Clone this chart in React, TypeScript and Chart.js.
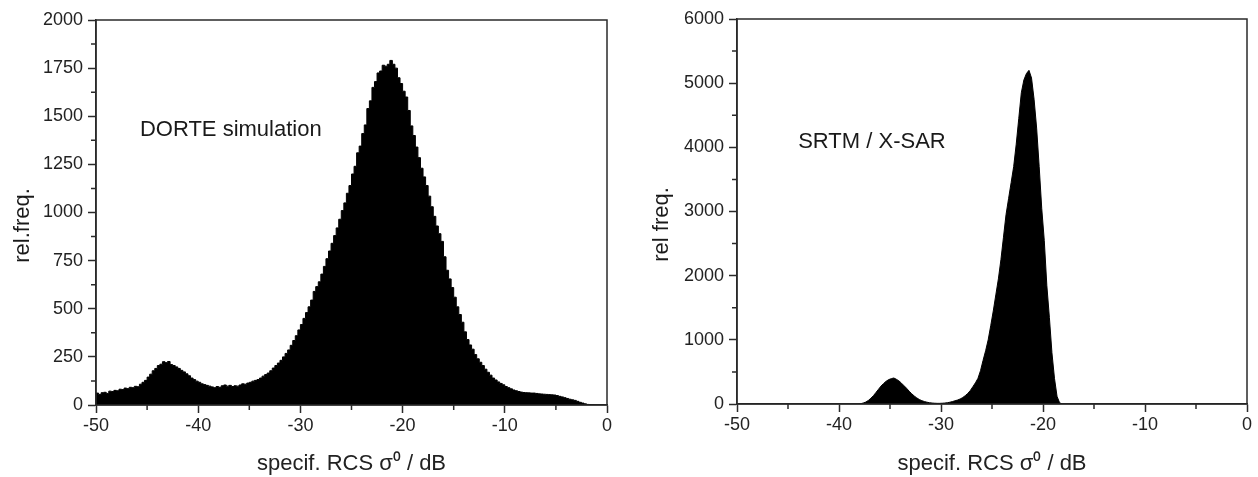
import React, { useEffect, useRef } from "react";
import { Chart, registerables } from "chart.js";

Chart.register(...registerables);

// ---- data ----
const binStart = -50; // dB, left edge of first bin
const binWidth = 0.25; // dB

// DORTE simulation histogram (rel. freq.), bins of 0.25 dB from -50 to 0
const dorteCounts = [
  58, 62, 55, 64, 66, 60, 72, 70, 76, 74, 82, 80, 88, 85, 92, 90, 97, 95, 108, 118,
  128, 145, 160, 178, 190, 205, 212, 225, 220, 226, 210, 205, 198, 190, 180, 172, 162, 152, 140, 132,
  124, 118, 110, 106, 102, 98, 94, 90, 96, 92, 100, 104, 98, 102, 96, 100, 98, 104, 110, 108,
  114, 118, 124, 128, 132, 140, 150, 158, 166, 178, 192, 205, 218, 232, 250, 268, 286, 310, 335, 360,
  390, 418, 450, 480, 510, 545, 590, 615, 640, 680, 720, 760, 800, 840, 880, 920, 965, 1010, 1050, 1100,
  1140, 1200, 1240, 1310, 1345, 1410, 1455, 1540, 1580, 1650, 1680, 1725, 1735, 1765, 1760, 1770, 1790, 1770, 1750, 1700,
  1670, 1630, 1600, 1530, 1450, 1400, 1340, 1285, 1230, 1185, 1140, 1085, 1030, 980, 930, 890, 850, 770, 700, 655,
  610, 560, 510, 470, 430, 380, 340, 312, 290, 262, 240, 222, 205, 186, 170, 155, 140, 130, 120, 112,
  105, 96, 90, 84, 78, 74, 70, 67, 65, 64, 63, 62, 62, 60, 58, 57, 56, 55, 54, 53,
  52, 49, 45, 42, 38, 34, 30, 27, 24, 19, 14, 10, 6, 3, 2, 1, 0, 0, 0, 0,
];

// SRTM / X-SAR histogram (rel. freq.), bins of 0.25 dB from -50 to 0
const srtmCounts = [
  0, 0, 0, 0, 0, 0, 0, 0, 0, 0, 0, 0, 0, 0, 0, 0, 0, 0, 0, 0,
  0, 0, 0, 0, 0, 0, 0, 0, 0, 0, 0, 0, 0, 0, 0, 0, 0, 0, 0, 0,
  0, 0, 0, 0, 0, 0, 0, 0, 5, 15, 30, 55, 90, 130, 180, 230, 280, 320, 355, 380,
  395, 405, 385, 360, 325, 285, 245, 200, 160, 125, 95, 70, 52, 38, 28, 20, 15, 12, 10, 10,
  12, 15, 20, 28, 38, 50, 62, 78, 100, 130, 165, 210, 270, 330, 400, 520, 680, 830, 1000, 1220,
  1450, 1700, 1950, 2250, 2600, 2950, 3200, 3450, 3700, 4050, 4450, 4850, 5050, 5150, 5200, 5080, 4750, 4300, 3700, 3050,
  2550, 1850, 1350, 800, 400, 120, 20, 0, 0, 0, 0, 0, 0, 0, 0, 0, 0, 0, 0, 0,
  0, 0, 0, 0, 0, 0, 0, 0, 0, 0, 0, 0, 0, 0, 0, 0, 0, 0, 0, 0,
  0, 0, 0, 0, 0, 0, 0, 0, 0, 0, 0, 0, 0, 0, 0, 0, 0, 0, 0, 0,
  0, 0, 0, 0, 0, 0, 0, 0, 0, 0, 0, 0, 0, 0, 0, 0, 0, 0, 0, 0,
];

const xMajorStep = 10;
const xMinorTicks = [-45, -35, -25, -15, -5];
const dorteYMax = 2000;
const dorteYStep = 250;
const dorteYMinor = [125, 375, 625, 875, 1125, 1375, 1625, 1875];
const srtmYMax = 6000;
const srtmYStep = 1000;
const srtmYMinor = [500, 1500, 2500, 3500, 4500, 5500];

const xTitle = "specif. RCS σ⁰ / dB";
const dorteYTitle = "rel.freq.";
const srtmYTitle = "rel freq.";
const dorteLabel = "DORTE simulation";
const srtmLabel = "SRTM / X-SAR";
const dorteLabelPos = [-45.7, 1430];
const srtmLabelPos = [-44.0, 4080];

const FONT = '"Liberation Sans", Arial, Helvetica, sans-serif';
const AXIS = "#2a2a2a";

const framePlugin = {
  id: "frame",
  afterDatasetsDraw(chart: any, _args: any, opts: any) {
    const { ctx, chartArea } = chart;
    const { left, right, top, bottom } = chartArea;
    const x = chart.scales.x;
    const y = chart.scales.y;
    ctx.save();
    ctx.strokeStyle = AXIS;
    ctx.lineWidth = 1.5;
    ctx.strokeRect(left, top, right - left, bottom - top);
    ctx.beginPath();
    for (const v of opts.xMinor || []) {
      const px = x.getPixelForValue(v);
      ctx.moveTo(px, bottom);
      ctx.lineTo(px, bottom + 5);
    }
    for (const v of opts.yMinor || []) {
      const py = y.getPixelForValue(v);
      ctx.moveTo(left - 5, py);
      ctx.lineTo(left, py);
    }
    ctx.stroke();
    ctx.fillStyle = "#1a1a1a";
    if (opts.label) {
      ctx.font = `22px ${FONT}`;
      ctx.textAlign = "left";
      ctx.textBaseline = "middle";
      ctx.fillText(
        opts.label,
        x.getPixelForValue(opts.labelPos[0]),
        y.getPixelForValue(opts.labelPos[1])
      );
    }
    if (opts.yTitle) {
      ctx.save();
      ctx.translate(opts.yTitleX, (top + bottom) / 2 + 13);
      ctx.rotate(-Math.PI / 2);
      ctx.font = `22px ${FONT}`;
      ctx.textAlign = "center";
      ctx.textBaseline = "middle";
      ctx.fillText(opts.yTitle, 0, 0);
      ctx.restore();
    }
    ctx.restore();
  },
};

function buildPoints(counts: number[], stepped: boolean) {
  const off = stepped ? 0 : binWidth / 2;
  return counts.map((c, i) => ({ x: binStart + i * binWidth + off, y: c }));
}

interface HistProps {
  counts: number[];
  stepped: boolean;
  yMax: number;
  yStep: number;
  yMinor: number[];
  yTitle: string;
  yTitleX: number;
  label: string;
  labelPos: number[];
  axisWidth: number;
  axisHeight: number;
  padTop: number;
  padRight: number;
  left: number;
}

function Histogram(p: HistProps) {
  const ref = useRef<HTMLCanvasElement>(null);
  useEffect(() => {
    if (!ref.current) return;
    const chart = new Chart(ref.current, {
      type: "line",
      data: {
        datasets: [
          {
            data: buildPoints(p.counts, p.stepped),
            stepped: p.stepped ? "after" : false,
            tension: 0,
            borderColor: "#000",
            backgroundColor: "#000",
            borderWidth: 1,
            pointRadius: 0,
            fill: "origin",
          },
        ],
      },
      options: {
        responsive: false,
        animation: false,
        layout: { padding: { top: p.padTop, right: p.padRight, left: 0, bottom: 0 } },
        plugins: {
          legend: { display: false },
          tooltip: { enabled: false },
          frame: {
            xMinor: xMinorTicks,
            yMinor: p.yMinor,
            label: p.label,
            labelPos: p.labelPos,
            yTitle: p.yTitle,
            yTitleX: p.yTitleX,
          },
        } as any,
        scales: {
          x: {
            type: "linear",
            min: -50,
            max: 0,
            afterFit: (s: any) => {
              s.height = p.axisHeight;
            },
            border: { display: true, color: AXIS, width: 1.5 },
            grid: {
              drawOnChartArea: false,
              drawTicks: true,
              tickLength: 8,
              tickColor: AXIS,
              tickWidth: 1.5,
            },
            ticks: {
              stepSize: xMajorStep,
              color: "#222",
              font: { family: FONT, size: 18 },
              padding: 2,
              maxRotation: 0,
              autoSkip: false,
              callback: (v: any) => String(v),
            },
            title: {
              display: true,
              text: xTitle,
              color: "#222",
              font: { family: FONT, size: 22 },
              padding: { top: 0, bottom: 0 },
            },
          },
          y: {
            type: "linear",
            min: 0,
            max: p.yMax,
            afterFit: (s: any) => {
              s.width = p.axisWidth;
            },
            border: { display: true, color: AXIS, width: 1.5 },
            grid: {
              drawOnChartArea: false,
              drawTicks: true,
              tickLength: 8,
              tickColor: AXIS,
              tickWidth: 1.5,
            },
            ticks: {
              stepSize: p.yStep,
              color: "#222",
              font: { family: FONT, size: 18 },
              padding: 5,
              autoSkip: false,
              callback: (v: any) => String(v),
            },
            title: { display: false },
          },
        },
      },
      plugins: [framePlugin],
    });
    return () => chart.destroy();
  }, []);
  return (
    <div style={{ position: "absolute", left: p.left, top: 0, width: 629, height: 477 }}>
      <canvas ref={ref} width={629} height={477} style={{ width: 629, height: 477, display: "block" }} />
    </div>
  );
}

export default function App() {
  return (
    <div
      style={{
        position: "fixed",
        left: 0,
        top: 0,
        width: 1258,
        height: 477,
        background: "#fff",
        overflow: "hidden",
      }}
    >
      <Histogram
        counts={dorteCounts}
        stepped={true}
        yMax={dorteYMax}
        yStep={dorteYStep}
        yMinor={dorteYMinor}
        yTitle={dorteYTitle}
        yTitleX={23}
        label={dorteLabel}
        labelPos={dorteLabelPos}
        axisWidth={96}
        axisHeight={72}
        padTop={20}
        padRight={22}
        left={0}
      />
      <Histogram
        counts={srtmCounts}
        stepped={false}
        yMax={srtmYMax}
        yStep={srtmYStep}
        yMinor={srtmYMinor}
        yTitle={srtmYTitle}
        yTitleX={33}
        label={srtmLabel}
        labelPos={srtmLabelPos}
        axisWidth={108}
        axisHeight={73}
        padTop={19}
        padRight={11}
        left={629}
      />
    </div>
  );
}
